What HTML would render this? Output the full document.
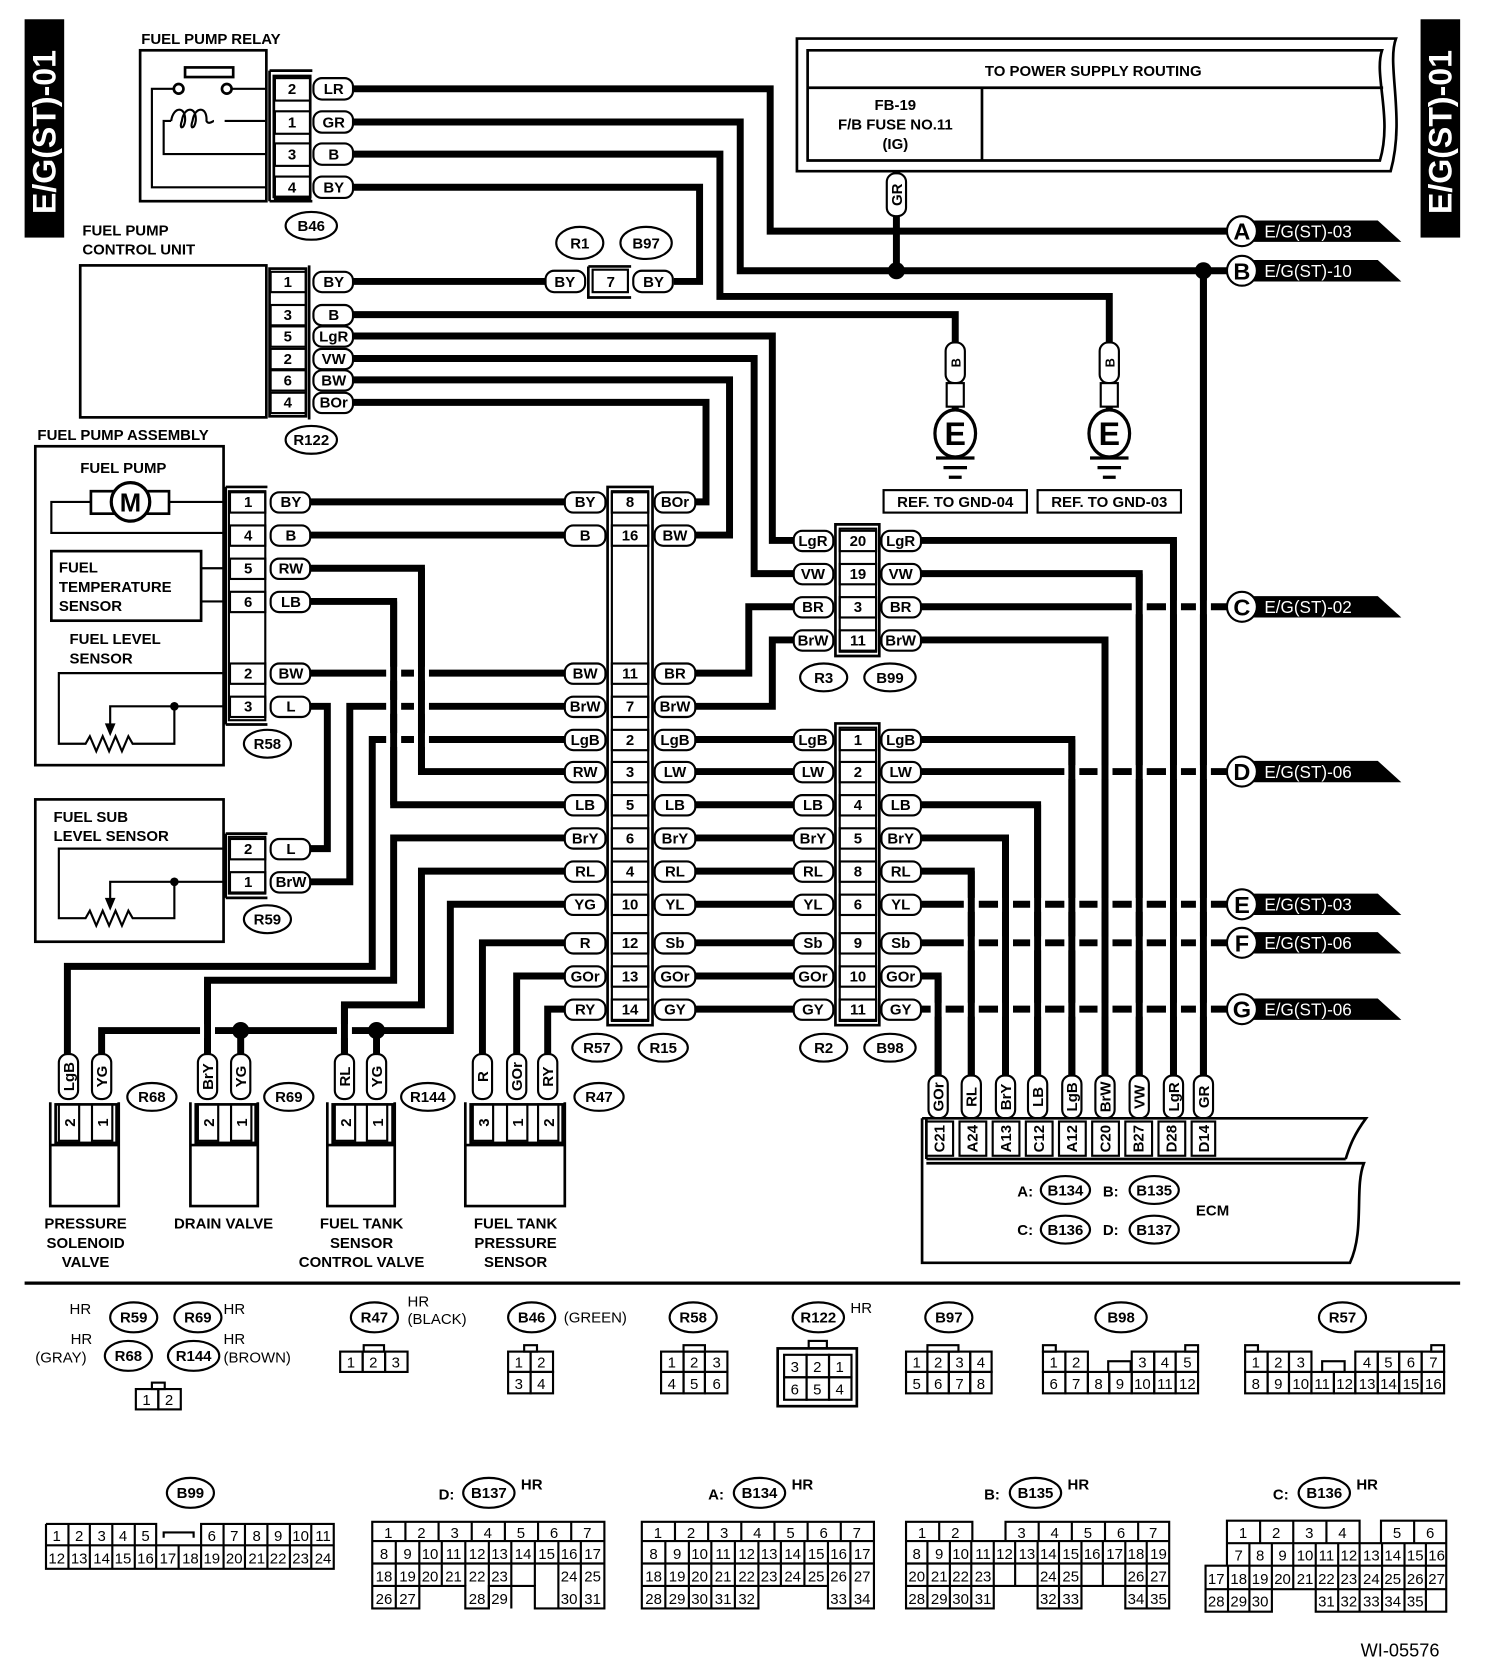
<!DOCTYPE html>
<html><head><meta charset="utf-8"><style>
html,body{margin:0;padding:0;background:#fff}
svg{display:block}
text{font-family:"Liberation Sans",Arial,sans-serif;font-weight:bold;font-size:14px;fill:#000}
.c{text-anchor:middle}
.n{font-weight:normal}
.w{stroke:#000;stroke-width:6.5;fill:none;stroke-linejoin:miter}
.t{stroke:#000;stroke-width:2;fill:none}
.tb{stroke:#000;stroke-width:2.5;fill:none}
.p{fill:#fff;stroke:#000;stroke-width:2}
.g{fill:#fff;stroke:none}
.wt{fill:#fff;font-size:16px;font-weight:normal}
</style></head><body>
<svg width="1504" height="1678" viewBox="0 0 1406 1568" preserveAspectRatio="none" xmlns="http://www.w3.org/2000/svg">
<rect x="0" y="0" width="1406" height="1568" fill="#fff"/>

<!-- side tags -->
<rect x="23" y="18" width="37" height="204" fill="#000"/>
<text transform="translate(52,200) rotate(-90)" style="fill:#fff;font-size:30px">E/G(ST)-01</text>
<rect x="1328" y="18" width="37" height="204" fill="#000"/>
<text transform="translate(1357,200) rotate(-90)" style="fill:#fff;font-size:30px">E/G(ST)-01</text>

<!-- ===== WIRES ===== -->
<g class="w">
<path d="M330,83 H720 V216 H1147"/>
<path d="M330,114 H692 V253 H1147"/>
<path d="M330,144 H673 V277 H1037 V320"/>
<path d="M330,175 H654 V263 H630"/>
<path d="M838,200 V253"/>
<path d="M330,263 H510"/>
<path d="M330,294 H893 V320"/>
<path d="M330,314 H722 V505 H742"/>
<path d="M330,335 H705 V536 H742"/>
<path d="M330,355 H682 V500 H650"/>
<path d="M330,376 H660 V469 H650"/>
<!-- R58 side -->
<path d="M290,469 H528"/>
<path d="M290,500 H528"/>
<path d="M290,531 H394 V721 H528"/>
<path d="M290,562 H368 V752 H528"/>
<path d="M290,629 H528"/>
<path d="M290,660 H306 V793 H290"/>
<path d="M290,824 H327 V660 H528"/>
<path d="M528,691 H348 V903 H63 V985"/>
<path d="M528,783 H368 V916 H194 V985"/>
<path d="M528,814 H394 V939 H322 V985"/>
<path d="M528,845 H421 V963 H95 V985"/>
<path d="M225,963 V985"/><path d="M352,963 V985"/>
<path d="M528,881 H451 V985"/>
<path d="M528,912 H483 V985"/>
<path d="M528,943 H512 V985"/>
<!-- R15 right -->
<path d="M650,629 H700 V567 H742"/>
<path d="M650,660 H722 V598 H742"/>
<path d="M650,691 H742"/><path d="M650,721 H742"/><path d="M650,752 H742"/><path d="M650,783 H742"/>
<path d="M650,814 H742"/><path d="M650,845 H742"/><path d="M650,881 H742"/><path d="M650,912 H742"/><path d="M650,943 H742"/>
<!-- B99 right -->
<path d="M860,505 H1097 V1005"/>
<path d="M860,536 H1065 V1005"/>
<path d="M860,567 H1148"/>
<path d="M860,598 H1033 V1005"/>
<!-- B98 right -->
<path d="M860,691 H1002 V1005"/>
<path d="M860,721 H1148"/>
<path d="M860,752 H970 V1005"/>
<path d="M860,783 H940 V1005"/>
<path d="M860,814 H908 V1005"/>
<path d="M860,845 H1148"/>
<path d="M860,881 H1148"/>
<path d="M860,912 H877 V1005"/>
<path d="M860,943 H1148"/>
<path d="M1125,253 V1005"/>
</g>

<!-- crossing gaps -->
<g class="g">
<rect x="361" y="623" width="14" height="13"/><rect x="387" y="623" width="14" height="13"/>
<rect x="361" y="654" width="14" height="13"/><rect x="387" y="654" width="14" height="13"/>
<rect x="361" y="685" width="14" height="13"/><rect x="387" y="685" width="14" height="13"/>
<rect x="187" y="957" width="14" height="13"/><rect x="315" y="957" width="14" height="13"/>
<rect x="1058" y="561" width="14" height="13"/><rect x="1090" y="561" width="14" height="13"/><rect x="1118" y="561" width="14" height="13"/>
<rect x="995" y="715" width="14" height="13"/><rect x="1026" y="715" width="14" height="13"/><rect x="1058" y="715" width="14" height="13"/><rect x="1090" y="715" width="14" height="13"/><rect x="1118" y="715" width="14" height="13"/>
<rect x="901" y="839" width="14" height="13"/><rect x="933" y="839" width="14" height="13"/><rect x="963" y="839" width="14" height="13"/><rect x="995" y="839" width="14" height="13"/><rect x="1026" y="839" width="14" height="13"/><rect x="1058" y="839" width="14" height="13"/><rect x="1090" y="839" width="14" height="13"/><rect x="1118" y="839" width="14" height="13"/>
<rect x="901" y="875" width="14" height="13"/><rect x="933" y="875" width="14" height="13"/><rect x="963" y="875" width="14" height="13"/><rect x="995" y="875" width="14" height="13"/><rect x="1026" y="875" width="14" height="13"/><rect x="1058" y="875" width="14" height="13"/><rect x="1090" y="875" width="14" height="13"/><rect x="1118" y="875" width="14" height="13"/>
<rect x="870" y="937" width="14" height="13"/><rect x="901" y="937" width="14" height="13"/><rect x="933" y="937" width="14" height="13"/><rect x="963" y="937" width="14" height="13"/><rect x="995" y="937" width="14" height="13"/><rect x="1026" y="937" width="14" height="13"/><rect x="1058" y="937" width="14" height="13"/><rect x="1090" y="937" width="14" height="13"/><rect x="1118" y="937" width="14" height="13"/>
</g>
<g class="w">
<path d="M368,562 V752"/><path d="M394,531 V721"/><path d="M322,939 V985"/><path d="M194,916 V985"/>
<path d="M877,912 V1005"/><path d="M908,814 V1005"/><path d="M940,783 V1005"/><path d="M970,752 V1005"/><path d="M1002,691 V1005"/><path d="M1033,598 V1005"/><path d="M1065,536 V1005"/><path d="M1097,505 V1005"/><path d="M1125,253 V1005"/>
</g>
<circle cx="838" cy="253" r="8"/><circle cx="1125" cy="253" r="8"/><circle cx="225" cy="963" r="8"/><circle cx="352" cy="963" r="8"/>

<!-- ===== FUEL PUMP RELAY ===== -->
<text x="132" y="41">FUEL PUMP RELAY</text>
<rect class="tb" x="131" y="47" width="118" height="141"/>
<rect class="tb" x="173" y="63" width="45" height="9"/>
<circle class="tb" cx="167" cy="83" r="4.5" fill="#fff"/><circle class="tb" cx="212" cy="83" r="4.5" fill="#fff"/>
<path class="t" d="M162,83 H142 V175 H249 M217,83 H249"/>
<path class="t" d="M249,113 H210 M160,113 H153 V144 H249"/>
<path class="t" d="M160,113 c2,-14 14,-14 13,0 c-1,8 -6,8 -3,0 c2,-14 14,-14 13,0 c-1,8 -6,8 -3,0 c2,-14 14,-14 13,0 c2,4 6,0 7,0"/>
<path class="tb" d="M252,66 H292 M252,188 H292 M252,66 V188"/>
<rect class="tb" x="256" y="71" width="34" height="113"/>
<g class="t"><rect x="257" y="73" width="33" height="21"/><rect x="257" y="104" width="33" height="21"/><rect x="257" y="134" width="33" height="21"/><rect x="257" y="165" width="33" height="21"/></g>
<text class="c" x="273" y="88">2</text><text class="c" x="273" y="119">1</text><text class="c" x="273" y="149">3</text><text class="c" x="273" y="180">4</text>
<g class="p"><rect x="293" y="73" width="37" height="20" rx="8"/><rect x="293" y="104" width="37" height="20" rx="8"/><rect x="293" y="134" width="37" height="20" rx="8"/><rect x="293" y="165" width="37" height="20" rx="8"/></g>
<text class="c" x="312" y="88">LR</text><text class="c" x="312" y="119">GR</text><text class="c" x="312" y="149">B</text><text class="c" x="312" y="180">BY</text>
<ellipse class="p" cx="291" cy="211" rx="24" ry="13"/><text class="c" x="291" y="216">B46</text>

<!-- ===== FPCU ===== -->
<text x="77" y="220">FUEL PUMP</text><text x="77" y="238">CONTROL UNIT</text>
<rect class="tb" x="75" y="248" width="174" height="142"/>
<path class="tb" d="M289,248 V392"/>
<rect class="tb" x="252" y="251" width="34" height="138"/>
<g class="t"><rect x="253" y="254" width="33" height="19"/><rect x="253" y="285" width="33" height="19"/><rect x="253" y="305" width="33" height="19"/><rect x="253" y="326" width="33" height="19"/><rect x="253" y="346" width="33" height="19"/><rect x="253" y="367" width="33" height="19"/></g>
<text class="c" x="269" y="268">1</text><text class="c" x="269" y="299">3</text><text class="c" x="269" y="319">5</text><text class="c" x="269" y="340">2</text><text class="c" x="269" y="360">6</text><text class="c" x="269" y="381">4</text>
<g class="p"><rect x="293" y="254" width="37" height="19" rx="8"/><rect x="293" y="285" width="37" height="19" rx="8"/><rect x="293" y="305" width="37" height="19" rx="8"/><rect x="293" y="326" width="37" height="19" rx="8"/><rect x="293" y="346" width="37" height="19" rx="8"/><rect x="293" y="367" width="37" height="19" rx="8"/></g>
<text class="c" x="312" y="268">BY</text><text class="c" x="312" y="299">B</text><text class="c" x="312" y="319">LgR</text><text class="c" x="312" y="340">VW</text><text class="c" x="312" y="360">BW</text><text class="c" x="312" y="381">BOr</text>
<ellipse class="p" cx="291" cy="411" rx="24" ry="13"/><text class="c" x="291" y="416">R122</text>

<!-- R1/B97 -->
<ellipse class="p" cx="542" cy="227" rx="22" ry="15"/><text class="c" x="542" y="232">R1</text>
<ellipse class="p" cx="604" cy="227" rx="24" ry="15"/><text class="c" x="604" y="232">B97</text>
<path class="tb" d="M550,249 H590 M550,249 V278 H590"/>
<rect class="t" x="554" y="252" width="33" height="21"/><text class="c" x="571" y="268">7</text>
<rect class="p" x="510" y="253" width="37" height="20" rx="8"/><text class="c" x="528" y="268">BY</text>
<rect class="p" x="592" y="253" width="37" height="20" rx="8"/><text class="c" x="611" y="268">BY</text>

<!-- ===== POWER BOX ===== -->
<path class="tb" d="M745,36 H1305 C1296,60 1314,110 1300,160 H745 Z"/>
<path class="tb" d="M755,47 H1292 C1284,70 1302,110 1290,150 H755 Z"/>
<path class="tb" d="M755,82 H1293 M918,82 V150"/>
<text class="c" x="1022" y="71">TO POWER SUPPLY ROUTING</text>
<text class="c" x="837" y="103">FB-19</text><text class="c" x="837" y="121">F/B FUSE NO.11</text><text class="c" x="837" y="139">(IG)</text>
<path class="t" d="M838,160 V165"/>
<rect class="p" x="829" y="162" width="18" height="40" rx="8"/>
<text class="c" transform="translate(843,182) rotate(-90)">GR</text>

<!-- grounds -->
<g>
<path class="w" d="M893,358 V390"/><path class="w" d="M1037,358 V390"/>
<rect class="p" x="884" y="320" width="18" height="38" rx="8"/><text class="c" transform="translate(898,339) rotate(-90)" style="font-size:12px">B</text>
<rect class="p" x="1028" y="320" width="18" height="38" rx="8"/><text class="c" transform="translate(1042,339) rotate(-90)" style="font-size:12px">B</text>
<rect class="p" x="885" y="358" width="16" height="22"/><rect class="p" x="1029" y="358" width="16" height="22"/>
<ellipse class="p" cx="893" cy="405" rx="19" ry="22" style="stroke-width:3"/><text class="c" x="893" y="416" style="font-size:30px">E</text>
<ellipse class="p" cx="1037" cy="405" rx="19" ry="22" style="stroke-width:3"/><text class="c" x="1037" y="416" style="font-size:30px">E</text>
<path class="tb" d="M875,428 H911 M882,437 H904 M887,446 H899 M1019,428 H1055 M1026,437 H1048 M1031,446 H1043" style="stroke-width:3"/>
<rect class="t" x="826" y="458" width="134" height="21"/><text class="c" x="893" y="474">REF. TO GND-04</text>
<rect class="t" x="970" y="458" width="134" height="21"/><text class="c" x="1037" y="474">REF. TO GND-03</text>
</g>

<!-- off-page connectors -->
<g>
<polygon points="1172,206 1288,206 1310,226 1172,226"/><circle class="p" cx="1161" cy="216" r="14"/><text class="c" x="1161" y="224" style="font-size:22px">A</text><text class="wt" x="1182" y="222">E/G(ST)-03</text>
<polygon points="1172,243 1288,243 1310,263 1172,263"/><circle class="p" cx="1161" cy="253" r="14"/><text class="c" x="1161" y="261" style="font-size:22px">B</text><text class="wt" x="1182" y="259">E/G(ST)-10</text>
<polygon points="1172,557 1288,557 1310,577 1172,577"/><circle class="p" cx="1161" cy="567" r="14"/><text class="c" x="1161" y="575" style="font-size:22px">C</text><text class="wt" x="1182" y="573">E/G(ST)-02</text>
<polygon points="1172,711 1288,711 1310,731 1172,731"/><circle class="p" cx="1161" cy="721" r="14"/><text class="c" x="1161" y="729" style="font-size:22px">D</text><text class="wt" x="1182" y="727">E/G(ST)-06</text>
<polygon points="1172,835 1288,835 1310,855 1172,855"/><circle class="p" cx="1161" cy="845" r="14"/><text class="c" x="1161" y="853" style="font-size:22px">E</text><text class="wt" x="1182" y="851">E/G(ST)-03</text>
<polygon points="1172,871 1288,871 1310,891 1172,891"/><circle class="p" cx="1161" cy="881" r="14"/><text class="c" x="1161" y="889" style="font-size:22px">F</text><text class="wt" x="1182" y="887">E/G(ST)-06</text>
<polygon points="1172,933 1288,933 1310,953 1172,953"/><circle class="p" cx="1161" cy="943" r="14"/><text class="c" x="1161" y="951" style="font-size:22px">G</text><text class="wt" x="1182" y="949">E/G(ST)-06</text>
</g>

<!-- ===== FUEL PUMP ASSEMBLY ===== -->
<text x="35" y="411">FUEL PUMP ASSEMBLY</text>
<rect class="tb" x="33" y="417" width="176" height="298"/>
<text x="75" y="442">FUEL PUMP</text>
<path class="t" d="M209,469 H158 M85,469 H48 V498 H209"/>
<rect class="tb" x="85" y="459" width="73" height="21"/>
<circle class="p" cx="122" cy="469" r="18" style="stroke-width:3"/><text class="c" x="122" y="478" style="font-size:24px">M</text>
<rect class="tb" x="48" y="515" width="140" height="65"/>
<text x="55" y="535">FUEL</text><text x="55" y="553">TEMPERATURE</text><text x="55" y="571">SENSOR</text>
<path class="t" d="M188,531 H209 M188,562 H209"/>
<text x="65" y="602">FUEL LEVEL</text><text x="65" y="620">SENSOR</text>
<path class="t" d="M209,629 H55 V695 H80 l4,-7 l6,14 l6,-14 l6,14 l6,-14 l6,14 l6,-14 l4,7 H163 V660 H209 M163,660 H103 V680"/>
<path d="M98,676 L103,688 L108,676 Z"/>
<circle cx="163" cy="660" r="4"/>
<!-- R58 connector -->
<path class="tb" d="M211,455 V677 M211,455 H250 M211,677 H250"/>
<rect class="t" x="214" y="459" width="34" height="214"/>
<g class="t"><rect x="215" y="460" width="33" height="19"/><rect x="215" y="491" width="33" height="19"/><rect x="215" y="522" width="33" height="19"/><rect x="215" y="553" width="33" height="19"/><rect x="215" y="620" width="33" height="19"/><rect x="215" y="651" width="33" height="19"/></g>
<text class="c" x="232" y="474">1</text><text class="c" x="232" y="505">4</text><text class="c" x="232" y="536">5</text><text class="c" x="232" y="567">6</text><text class="c" x="232" y="634">2</text><text class="c" x="232" y="665">3</text>
<g class="p"><rect x="253" y="460" width="37" height="19" rx="8"/><rect x="253" y="491" width="37" height="19" rx="8"/><rect x="253" y="522" width="37" height="19" rx="8"/><rect x="253" y="553" width="37" height="19" rx="8"/><rect x="253" y="620" width="37" height="19" rx="8"/><rect x="253" y="651" width="37" height="19" rx="8"/></g>
<text class="c" x="272" y="474">BY</text><text class="c" x="272" y="505">B</text><text class="c" x="272" y="536">RW</text><text class="c" x="272" y="567">LB</text><text class="c" x="272" y="634">BW</text><text class="c" x="272" y="665">L</text>
<ellipse class="p" cx="250" cy="695" rx="22" ry="13"/><text class="c" x="250" y="700">R58</text>

<!-- FUEL SUB LEVEL SENSOR -->
<rect class="tb" x="33" y="747" width="176" height="133"/>
<text x="50" y="768">FUEL SUB</text><text x="50" y="786">LEVEL SENSOR</text>
<path class="t" d="M209,793 H55 V858 H80 l4,-7 l6,14 l6,-14 l6,14 l6,-14 l6,14 l6,-14 l4,7 H163 V824 H209 M163,824 H103 V843"/>
<path d="M98,839 L103,851 L108,839 Z"/>
<circle cx="163" cy="824" r="4"/>
<path class="tb" d="M211,779 V839 M211,779 H250 M211,839 H250"/>
<rect class="t" x="214" y="782" width="34" height="53"/>
<g class="t"><rect x="215" y="784" width="33" height="19"/><rect x="215" y="815" width="33" height="19"/></g>
<text class="c" x="232" y="798">2</text><text class="c" x="232" y="829">1</text>
<g class="p"><rect x="253" y="784" width="37" height="19" rx="8"/><rect x="253" y="815" width="37" height="19" rx="8"/></g>
<text class="c" x="272" y="798">L</text><text class="c" x="272" y="829">BrW</text>
<ellipse class="p" cx="250" cy="859" rx="22" ry="13"/><text class="c" x="250" y="864">R59</text>

<!-- ===== R57 / R15 ===== -->
<path class="tb" d="M568,455 H610 V958 H568 Z"/>
<rect class="t" x="572" y="459" width="34" height="495"/>
<g class="t">
<rect x="572" y="460" width="34" height="19"/><rect x="572" y="491" width="34" height="19"/><rect x="572" y="620" width="34" height="19"/><rect x="572" y="651" width="34" height="19"/><rect x="572" y="682" width="34" height="19"/><rect x="572" y="712" width="34" height="19"/><rect x="572" y="743" width="34" height="19"/><rect x="572" y="774" width="34" height="19"/><rect x="572" y="805" width="34" height="19"/><rect x="572" y="836" width="34" height="19"/><rect x="572" y="872" width="34" height="19"/><rect x="572" y="903" width="34" height="19"/><rect x="572" y="934" width="34" height="19"/>
</g>
<g class="c">
<text x="589" y="474" class="c">8</text><text x="589" y="505" class="c">16</text><text x="589" y="634" class="c">11</text><text x="589" y="665" class="c">7</text><text x="589" y="696" class="c">2</text><text x="589" y="726" class="c">3</text><text x="589" y="757" class="c">5</text><text x="589" y="788" class="c">6</text><text x="589" y="819" class="c">4</text><text x="589" y="850" class="c">10</text><text x="589" y="886" class="c">12</text><text x="589" y="917" class="c">13</text><text x="589" y="948" class="c">14</text>
</g>
<g class="p">
<rect x="528" y="460" width="38" height="19" rx="8"/><rect x="528" y="491" width="38" height="19" rx="8"/><rect x="528" y="620" width="38" height="19" rx="8"/><rect x="528" y="651" width="38" height="19" rx="8"/><rect x="528" y="682" width="38" height="19" rx="8"/><rect x="528" y="712" width="38" height="19" rx="8"/><rect x="528" y="743" width="38" height="19" rx="8"/><rect x="528" y="774" width="38" height="19" rx="8"/><rect x="528" y="805" width="38" height="19" rx="8"/><rect x="528" y="836" width="38" height="19" rx="8"/><rect x="528" y="872" width="38" height="19" rx="8"/><rect x="528" y="903" width="38" height="19" rx="8"/><rect x="528" y="934" width="38" height="19" rx="8"/>
<rect x="612" y="460" width="38" height="19" rx="8"/><rect x="612" y="491" width="38" height="19" rx="8"/><rect x="612" y="620" width="38" height="19" rx="8"/><rect x="612" y="651" width="38" height="19" rx="8"/><rect x="612" y="682" width="38" height="19" rx="8"/><rect x="612" y="712" width="38" height="19" rx="8"/><rect x="612" y="743" width="38" height="19" rx="8"/><rect x="612" y="774" width="38" height="19" rx="8"/><rect x="612" y="805" width="38" height="19" rx="8"/><rect x="612" y="836" width="38" height="19" rx="8"/><rect x="612" y="872" width="38" height="19" rx="8"/><rect x="612" y="903" width="38" height="19" rx="8"/><rect x="612" y="934" width="38" height="19" rx="8"/>
</g>
<text class="c" x="547" y="474">BY</text><text class="c" x="547" y="505">B</text><text class="c" x="547" y="634">BW</text><text class="c" x="547" y="665">BrW</text><text class="c" x="547" y="696">LgB</text><text class="c" x="547" y="726">RW</text><text class="c" x="547" y="757">LB</text><text class="c" x="547" y="788">BrY</text><text class="c" x="547" y="819">RL</text><text class="c" x="547" y="850">YG</text><text class="c" x="547" y="886">R</text><text class="c" x="547" y="917">GOr</text><text class="c" x="547" y="948">RY</text>
<text class="c" x="631" y="474">BOr</text><text class="c" x="631" y="505">BW</text><text class="c" x="631" y="634">BR</text><text class="c" x="631" y="665">BrW</text><text class="c" x="631" y="696">LgB</text><text class="c" x="631" y="726">LW</text><text class="c" x="631" y="757">LB</text><text class="c" x="631" y="788">BrY</text><text class="c" x="631" y="819">RL</text><text class="c" x="631" y="850">YL</text><text class="c" x="631" y="886">Sb</text><text class="c" x="631" y="917">GOr</text><text class="c" x="631" y="948">GY</text>
<ellipse class="p" cx="558" cy="979" rx="23" ry="13"/><text class="c" x="558" y="984">R57</text>
<ellipse class="p" cx="620" cy="979" rx="23" ry="13"/><text class="c" x="620" y="984">R15</text>

<!-- ===== R3 / B99 ===== -->
<path class="tb" d="M781,490 H822 V613 H781 Z"/>
<rect class="t" x="785" y="494" width="34" height="115"/>
<g class="t"><rect x="785" y="496" width="34" height="19"/><rect x="785" y="527" width="34" height="19"/><rect x="785" y="558" width="34" height="19"/><rect x="785" y="589" width="34" height="19"/></g>
<text class="c" x="802" y="510">20</text><text class="c" x="802" y="541">19</text><text class="c" x="802" y="572">3</text><text class="c" x="802" y="603">11</text>
<g class="p"><rect x="742" y="496" width="37" height="19" rx="8"/><rect x="742" y="527" width="37" height="19" rx="8"/><rect x="742" y="558" width="37" height="19" rx="8"/><rect x="742" y="589" width="37" height="19" rx="8"/>
<rect x="824" y="496" width="37" height="19" rx="8"/><rect x="824" y="527" width="37" height="19" rx="8"/><rect x="824" y="558" width="37" height="19" rx="8"/><rect x="824" y="589" width="37" height="19" rx="8"/></g>
<text class="c" x="760" y="510">LgR</text><text class="c" x="760" y="541">VW</text><text class="c" x="760" y="572">BR</text><text class="c" x="760" y="603">BrW</text>
<text class="c" x="842" y="510">LgR</text><text class="c" x="842" y="541">VW</text><text class="c" x="842" y="572">BR</text><text class="c" x="842" y="603">BrW</text>
<ellipse class="p" cx="770" cy="633" rx="22" ry="13"/><text class="c" x="770" y="638">R3</text>
<ellipse class="p" cx="832" cy="633" rx="24" ry="13"/><text class="c" x="832" y="638">B99</text>

<!-- ===== R2 / B98 ===== -->
<path class="tb" d="M781,676 H822 V958 H781 Z"/>
<rect class="t" x="785" y="680" width="34" height="274"/>
<g class="t"><rect x="785" y="682" width="34" height="19"/><rect x="785" y="712" width="34" height="19"/><rect x="785" y="743" width="34" height="19"/><rect x="785" y="774" width="34" height="19"/><rect x="785" y="805" width="34" height="19"/><rect x="785" y="836" width="34" height="19"/><rect x="785" y="872" width="34" height="19"/><rect x="785" y="903" width="34" height="19"/><rect x="785" y="934" width="34" height="19"/></g>
<text class="c" x="802" y="696">1</text><text class="c" x="802" y="726">2</text><text class="c" x="802" y="757">4</text><text class="c" x="802" y="788">5</text><text class="c" x="802" y="819">8</text><text class="c" x="802" y="850">6</text><text class="c" x="802" y="886">9</text><text class="c" x="802" y="917">10</text><text class="c" x="802" y="948">11</text>
<g class="p">
<rect x="742" y="682" width="37" height="19" rx="8"/><rect x="742" y="712" width="37" height="19" rx="8"/><rect x="742" y="743" width="37" height="19" rx="8"/><rect x="742" y="774" width="37" height="19" rx="8"/><rect x="742" y="805" width="37" height="19" rx="8"/><rect x="742" y="836" width="37" height="19" rx="8"/><rect x="742" y="872" width="37" height="19" rx="8"/><rect x="742" y="903" width="37" height="19" rx="8"/><rect x="742" y="934" width="37" height="19" rx="8"/>
<rect x="824" y="682" width="37" height="19" rx="8"/><rect x="824" y="712" width="37" height="19" rx="8"/><rect x="824" y="743" width="37" height="19" rx="8"/><rect x="824" y="774" width="37" height="19" rx="8"/><rect x="824" y="805" width="37" height="19" rx="8"/><rect x="824" y="836" width="37" height="19" rx="8"/><rect x="824" y="872" width="37" height="19" rx="8"/><rect x="824" y="903" width="37" height="19" rx="8"/><rect x="824" y="934" width="37" height="19" rx="8"/>
</g>
<text class="c" x="760" y="696">LgB</text><text class="c" x="760" y="726">LW</text><text class="c" x="760" y="757">LB</text><text class="c" x="760" y="788">BrY</text><text class="c" x="760" y="819">RL</text><text class="c" x="760" y="850">YL</text><text class="c" x="760" y="886">Sb</text><text class="c" x="760" y="917">GOr</text><text class="c" x="760" y="948">GY</text>
<text class="c" x="842" y="696">LgB</text><text class="c" x="842" y="726">LW</text><text class="c" x="842" y="757">LB</text><text class="c" x="842" y="788">BrY</text><text class="c" x="842" y="819">RL</text><text class="c" x="842" y="850">YL</text><text class="c" x="842" y="886">Sb</text><text class="c" x="842" y="917">GOr</text><text class="c" x="842" y="948">GY</text>
<ellipse class="p" cx="770" cy="979" rx="22" ry="13"/><text class="c" x="770" y="984">R2</text>
<ellipse class="p" cx="832" cy="979" rx="24" ry="13"/><text class="c" x="832" y="984">B98</text>

<!-- ===== Bottom devices ===== -->
<g class="p">
<rect x="55" y="985" width="18" height="42" rx="8"/><rect x="86" y="985" width="18" height="42" rx="8"/>
<rect x="185" y="985" width="18" height="42" rx="8"/><rect x="216" y="985" width="18" height="42" rx="8"/>
<rect x="313" y="985" width="18" height="42" rx="8"/><rect x="343" y="985" width="18" height="42" rx="8"/>
<rect x="442" y="985" width="18" height="42" rx="8"/><rect x="474" y="985" width="18" height="42" rx="8"/><rect x="503" y="985" width="18" height="42" rx="8"/>
</g>
<text class="c" transform="translate(69,1006) rotate(-90)">LgB</text><text class="c" transform="translate(100,1006) rotate(-90)">YG</text>
<text class="c" transform="translate(199,1006) rotate(-90)">BrY</text><text class="c" transform="translate(230,1006) rotate(-90)">YG</text>
<text class="c" transform="translate(327,1006) rotate(-90)">RL</text><text class="c" transform="translate(357,1006) rotate(-90)">YG</text>
<text class="c" transform="translate(456,1006) rotate(-90)">R</text><text class="c" transform="translate(488,1006) rotate(-90)">GOr</text><text class="c" transform="translate(517,1006) rotate(-90)">RY</text>
<g class="tb">
<path d="M47,1030 V1127 H111 V1030 M47,1070 H111"/><rect x="52" y="1032" width="57" height="36"/>
<path d="M178,1030 V1127 H241 V1030 M178,1070 H241"/><rect x="183" y="1032" width="56" height="36"/>
<path d="M306,1030 V1127 H369 V1030 M306,1070 H369"/><rect x="311" y="1032" width="56" height="36"/>
<path d="M435,1030 V1127 H528 V1030 M435,1070 H528"/><rect x="440" y="1032" width="86" height="36"/>
</g>
<g class="t">
<rect x="55" y="1032" width="19" height="34"/><rect x="86" y="1032" width="19" height="34"/>
<rect x="185" y="1032" width="19" height="34"/><rect x="216" y="1032" width="19" height="34"/>
<rect x="313" y="1032" width="19" height="34"/><rect x="343" y="1032" width="19" height="34"/>
<rect x="442" y="1032" width="19" height="34"/><rect x="474" y="1032" width="19" height="34"/><rect x="503" y="1032" width="19" height="34"/>
</g>
<text class="c" transform="translate(70,1049) rotate(-90)">2</text><text class="c" transform="translate(101,1049) rotate(-90)">1</text>
<text class="c" transform="translate(200,1049) rotate(-90)">2</text><text class="c" transform="translate(231,1049) rotate(-90)">1</text>
<text class="c" transform="translate(328,1049) rotate(-90)">2</text><text class="c" transform="translate(358,1049) rotate(-90)">1</text>
<text class="c" transform="translate(457,1049) rotate(-90)">3</text><text class="c" transform="translate(489,1049) rotate(-90)">1</text><text class="c" transform="translate(518,1049) rotate(-90)">2</text>
<ellipse class="p" cx="142" cy="1025" rx="23" ry="13"/><text class="c" x="142" y="1030">R68</text>
<ellipse class="p" cx="270" cy="1025" rx="23" ry="13"/><text class="c" x="270" y="1030">R69</text>
<ellipse class="p" cx="400" cy="1025" rx="25" ry="13"/><text class="c" x="400" y="1030">R144</text>
<ellipse class="p" cx="560" cy="1025" rx="23" ry="13"/><text class="c" x="560" y="1030">R47</text>
<text class="c" x="80" y="1148">PRESSURE</text><text class="c" x="80" y="1166">SOLENOID</text><text class="c" x="80" y="1184">VALVE</text>
<text class="c" x="209" y="1148">DRAIN VALVE</text>
<text class="c" x="338" y="1148">FUEL TANK</text><text class="c" x="338" y="1166">SENSOR</text><text class="c" x="338" y="1184">CONTROL VALVE</text>
<text class="c" x="482" y="1148">FUEL TANK</text><text class="c" x="482" y="1166">PRESSURE</text><text class="c" x="482" y="1184">SENSOR</text>

<!-- ===== ECM ===== -->
<g class="p">
<rect x="868" y="1005" width="18" height="40" rx="8"/><rect x="899" y="1005" width="18" height="40" rx="8"/><rect x="931" y="1005" width="18" height="40" rx="8"/><rect x="961" y="1005" width="18" height="40" rx="8"/><rect x="993" y="1005" width="18" height="40" rx="8"/><rect x="1024" y="1005" width="18" height="40" rx="8"/><rect x="1056" y="1005" width="18" height="40" rx="8"/><rect x="1088" y="1005" width="18" height="40" rx="8"/><rect x="1116" y="1005" width="18" height="40" rx="8"/>
</g>
<text class="c" transform="translate(882,1025) rotate(-90)">GOr</text><text class="c" transform="translate(913,1025) rotate(-90)">RL</text><text class="c" transform="translate(945,1025) rotate(-90)">BrY</text><text class="c" transform="translate(975,1025) rotate(-90)">LB</text><text class="c" transform="translate(1007,1025) rotate(-90)">LgB</text><text class="c" transform="translate(1038,1025) rotate(-90)">BrW</text><text class="c" transform="translate(1070,1025) rotate(-90)">VW</text><text class="c" transform="translate(1102,1025) rotate(-90)">LgR</text><text class="c" transform="translate(1130,1025) rotate(-90)">GR</text>
<path class="tb" d="M862,1045 H1277 C1266,1060 1262,1070 1258,1083 M862,1045 V1180 H1262 C1276,1150 1266,1110 1275,1087 H866 M866,1083 H1258 M866,1045 V1083"/>
<g class="t">
<rect x="866" y="1048" width="25" height="32"/><rect x="897" y="1048" width="25" height="32"/><rect x="928" y="1048" width="25" height="32"/><rect x="959" y="1048" width="25" height="32"/><rect x="990" y="1048" width="25" height="32"/><rect x="1021" y="1048" width="25" height="32"/><rect x="1052" y="1048" width="25" height="32"/><rect x="1083" y="1048" width="25" height="32"/><rect x="1114" y="1048" width="22" height="32"/>
</g>
<text class="c" transform="translate(883,1064) rotate(-90)">C21</text><text class="c" transform="translate(914,1064) rotate(-90)">A24</text><text class="c" transform="translate(945,1064) rotate(-90)">A13</text><text class="c" transform="translate(976,1064) rotate(-90)">C12</text><text class="c" transform="translate(1007,1064) rotate(-90)">A12</text><text class="c" transform="translate(1038,1064) rotate(-90)">C20</text><text class="c" transform="translate(1069,1064) rotate(-90)">B27</text><text class="c" transform="translate(1100,1064) rotate(-90)">D28</text><text class="c" transform="translate(1130,1064) rotate(-90)">D14</text>
<text x="951" y="1118">A:</text><ellipse class="p" cx="996" cy="1112" rx="23" ry="13"/><text class="c" x="996" y="1117">B134</text>
<text x="1031" y="1118">B:</text><ellipse class="p" cx="1079" cy="1112" rx="23" ry="13"/><text class="c" x="1079" y="1117">B135</text>
<text x="951" y="1154">C:</text><ellipse class="p" cx="996" cy="1149" rx="23" ry="13"/><text class="c" x="996" y="1154">B136</text>
<text x="1031" y="1154">D:</text><ellipse class="p" cx="1079" cy="1149" rx="23" ry="13"/><text class="c" x="1079" y="1154">B137</text>
<text x="1118" y="1136">ECM</text>

<!-- rule -->
<path d="M23,1199 H1365" stroke="#000" stroke-width="3"/>

<!-- ===== Legend row 1 ===== -->
<g class="n">
<text class="n" x="65" y="1228">HR</text>
<ellipse class="p" cx="125" cy="1231" rx="22" ry="14"/><text class="c" x="125" y="1236">R59</text>
<ellipse class="p" cx="185" cy="1231" rx="22" ry="14"/><text class="c" x="185" y="1236">R69</text>
<text class="n" x="209" y="1228">HR</text>
<text class="n" x="66" y="1256">HR</text><text class="n" x="33" y="1273">(GRAY)</text>
<ellipse class="p" cx="120" cy="1267" rx="22" ry="14"/><text class="c" x="120" y="1272">R68</text>
<ellipse class="p" cx="181" cy="1267" rx="24" ry="14"/><text class="c" x="181" y="1272">R144</text>
<text class="n" x="209" y="1256">HR</text><text class="n" x="209" y="1273">(BROWN)</text>
</g>
<g class="t"><rect x="142" y="1292" width="12" height="6"/><rect x="127" y="1298" width="21" height="19"/><rect x="148" y="1298" width="21" height="19"/></g>
<text class="c n" x="137" y="1313">1</text><text class="c n" x="158" y="1313">2</text>

<ellipse class="p" cx="350" cy="1231" rx="22" ry="14"/><text class="c" x="350" y="1236">R47</text>
<text class="n" x="381" y="1221">HR</text><text class="n" x="381" y="1237">(BLACK)</text>
<g class="t"><rect x="340" y="1257" width="19" height="6"/><rect x="318" y="1263" width="21" height="19"/><rect x="339" y="1263" width="21" height="19"/><rect x="360" y="1263" width="21" height="19"/></g>
<text class="c n" x="328" y="1278">1</text><text class="c n" x="349" y="1278">2</text><text class="c n" x="370" y="1278">3</text>

<ellipse class="p" cx="497" cy="1231" rx="22" ry="14"/><text class="c" x="497" y="1236">B46</text>
<text class="n" x="527" y="1236">(GREEN)</text>
<g class="t"><rect x="490" y="1257" width="12" height="6"/><rect x="475" y="1263" width="21" height="19"/><rect x="496" y="1263" width="21" height="19"/><rect x="475" y="1282" width="21" height="20"/><rect x="496" y="1282" width="21" height="20"/></g>
<text class="c n" x="485" y="1278">1</text><text class="c n" x="506" y="1278">2</text><text class="c n" x="485" y="1298">3</text><text class="c n" x="506" y="1298">4</text>

<ellipse class="p" cx="648" cy="1231" rx="22" ry="14"/><text class="c" x="648" y="1236">R58</text>
<g class="t"><rect x="639" y="1257" width="20" height="6"/><rect x="618" y="1263" width="21" height="19"/><rect x="639" y="1263" width="20" height="19"/><rect x="659" y="1263" width="21" height="19"/><rect x="618" y="1282" width="21" height="20"/><rect x="639" y="1282" width="20" height="20"/><rect x="659" y="1282" width="21" height="20"/></g>
<text class="c n" x="628" y="1278">1</text><text class="c n" x="649" y="1278">2</text><text class="c n" x="670" y="1278">3</text><text class="c n" x="628" y="1298">4</text><text class="c n" x="649" y="1298">5</text><text class="c n" x="670" y="1298">6</text>

<ellipse class="p" cx="765" cy="1231" rx="24" ry="14"/><text class="c" x="765" y="1236">R122</text>
<text class="n" x="795" y="1227">HR</text>
<g class="t"><rect x="756" y="1253" width="17" height="7"/><rect x="727" y="1260" width="74" height="54" style="stroke-width:2.5"/><rect x="733" y="1266" width="21" height="21"/><rect x="754" y="1266" width="21" height="21"/><rect x="775" y="1266" width="21" height="21"/><rect x="733" y="1287" width="21" height="21"/><rect x="754" y="1287" width="21" height="21"/><rect x="775" y="1287" width="21" height="21"/></g>
<text class="c n" x="743" y="1282">3</text><text class="c n" x="764" y="1282">2</text><text class="c n" x="785" y="1282">1</text><text class="c n" x="743" y="1303">6</text><text class="c n" x="764" y="1303">5</text><text class="c n" x="785" y="1303">4</text>

<ellipse class="p" cx="887" cy="1231" rx="22" ry="14"/><text class="c" x="887" y="1236">B97</text>
<g class="t"><rect x="867" y="1257" width="29" height="6"/>
<rect x="847" y="1263" width="20" height="19"/><rect x="867" y="1263" width="20" height="19"/><rect x="887" y="1263" width="20" height="19"/><rect x="907" y="1263" width="20" height="19"/>
<rect x="847" y="1282" width="20" height="20"/><rect x="867" y="1282" width="20" height="20"/><rect x="887" y="1282" width="20" height="20"/><rect x="907" y="1282" width="20" height="20"/></g>
<text class="c n" x="857" y="1278">1</text><text class="c n" x="877" y="1278">2</text><text class="c n" x="897" y="1278">3</text><text class="c n" x="917" y="1278">4</text><text class="c n" x="857" y="1298">5</text><text class="c n" x="877" y="1298">6</text><text class="c n" x="897" y="1298">7</text><text class="c n" x="917" y="1298">8</text>

<ellipse class="p" cx="1048" cy="1231" rx="24" ry="14"/><text class="c" x="1048" y="1236">B98</text>
<g class="t"><rect x="975" y="1257" width="12" height="6"/><rect x="1108" y="1257" width="12" height="6"/><rect x="1036" y="1272" width="21" height="10"/>
<rect x="975" y="1263" width="21" height="19"/><rect x="996" y="1263" width="21" height="19"/><rect x="1058" y="1263" width="21" height="19"/><rect x="1079" y="1263" width="20" height="19"/><rect x="1099" y="1263" width="21" height="19"/>
<rect x="975" y="1282" width="21" height="20"/><rect x="996" y="1282" width="21" height="20"/><rect x="1017" y="1282" width="20" height="20"/><rect x="1037" y="1282" width="21" height="20"/><rect x="1058" y="1282" width="21" height="20"/><rect x="1079" y="1282" width="20" height="20"/><rect x="1099" y="1282" width="21" height="20"/></g>
<text class="c n" x="985" y="1278">1</text><text class="c n" x="1006" y="1278">2</text><text class="c n" x="1068" y="1278">3</text><text class="c n" x="1089" y="1278">4</text><text class="c n" x="1110" y="1278">5</text>
<text class="c n" x="985" y="1298">6</text><text class="c n" x="1006" y="1298">7</text><text class="c n" x="1027" y="1298">8</text><text class="c n" x="1047" y="1298">9</text><text class="c n" x="1068" y="1298">10</text><text class="c n" x="1089" y="1298">11</text><text class="c n" x="1110" y="1298">12</text>

<ellipse class="p" cx="1255" cy="1231" rx="22" ry="14"/><text class="c" x="1255" y="1236">R57</text>
<g class="t"><rect x="1164" y="1257" width="12" height="6"/><rect x="1338" y="1257" width="12" height="6"/><rect x="1236" y="1272" width="21" height="10"/>
<rect x="1164" y="1263" width="21" height="19"/><rect x="1185" y="1263" width="20" height="19"/><rect x="1205" y="1263" width="21" height="19"/>
<rect x="1267" y="1263" width="21" height="19"/><rect x="1288" y="1263" width="20" height="19"/><rect x="1308" y="1263" width="21" height="19"/><rect x="1329" y="1263" width="21" height="19"/>
<rect x="1164" y="1282" width="21" height="20"/><rect x="1185" y="1282" width="20" height="20"/><rect x="1205" y="1282" width="21" height="20"/><rect x="1226" y="1282" width="21" height="20"/><rect x="1247" y="1282" width="20" height="20"/><rect x="1267" y="1282" width="21" height="20"/><rect x="1288" y="1282" width="20" height="20"/><rect x="1308" y="1282" width="21" height="20"/><rect x="1329" y="1282" width="21" height="20"/></g>
<text class="c n" x="1174" y="1278">1</text><text class="c n" x="1195" y="1278">2</text><text class="c n" x="1216" y="1278">3</text><text class="c n" x="1278" y="1278">4</text><text class="c n" x="1298" y="1278">5</text><text class="c n" x="1319" y="1278">6</text><text class="c n" x="1340" y="1278">7</text>
<text class="c n" x="1174" y="1298">8</text><text class="c n" x="1195" y="1298">9</text><text class="c n" x="1216" y="1298">10</text><text class="c n" x="1236" y="1298">11</text><text class="c n" x="1257" y="1298">12</text><text class="c n" x="1278" y="1298">13</text><text class="c n" x="1298" y="1298">14</text><text class="c n" x="1319" y="1298">15</text><text class="c n" x="1340" y="1298">16</text>

<!-- ===== Legend row 2 ===== -->
<!-- B99 -->
<ellipse class="p" cx="178" cy="1395" rx="22" ry="14"/><text class="c" x="178" y="1400">B99</text>
<g class="t">
<path d="M43,1424 H146 V1444 M43,1424 V1466 H312 V1424 H188 V1444 M43,1444 H312 M153,1437 V1432 H181 V1437"/>
<path d="M64,1424 V1466 M84,1424 V1466 M105,1424 V1466 M126,1424 V1466 M146,1444 V1466 M167,1444 V1466 M188,1444 V1466 M209,1424 V1466 M229,1424 V1466 M250,1424 V1466 M271,1424 V1466 M291,1424 V1466"/>
</g>
<g class="n">
<text class="c n" x="53" y="1440">1</text><text class="c n" x="74" y="1440">2</text><text class="c n" x="95" y="1440">3</text><text class="c n" x="115" y="1440">4</text><text class="c n" x="136" y="1440">5</text><text class="c n" x="198" y="1440">6</text><text class="c n" x="219" y="1440">7</text><text class="c n" x="240" y="1440">8</text><text class="c n" x="260" y="1440">9</text><text class="c n" x="281" y="1440">10</text><text class="c n" x="302" y="1440">11</text>
<text class="c n" x="53" y="1461">12</text><text class="c n" x="74" y="1461">13</text><text class="c n" x="95" y="1461">14</text><text class="c n" x="115" y="1461">15</text><text class="c n" x="136" y="1461">16</text><text class="c n" x="157" y="1461">17</text><text class="c n" x="178" y="1461">18</text><text class="c n" x="198" y="1461">19</text><text class="c n" x="219" y="1461">20</text><text class="c n" x="240" y="1461">21</text><text class="c n" x="260" y="1461">22</text><text class="c n" x="281" y="1461">23</text><text class="c n" x="302" y="1461">24</text>
</g>

<!-- D: B137 -->
<text x="410" y="1401">D:</text><ellipse class="p" cx="457" cy="1395" rx="24" ry="14"/><text class="c" x="457" y="1400">B137</text><text x="487" y="1392">HR</text>
<g class="t">
<path d="M348,1422 H565 V1503 H500 V1482 H457 V1503 H435 V1482 H392 V1503 H348 Z M348,1440 H565 M348,1461 H565 M348,1482 H392 M457,1482 H500"/>
<path d="M379,1422 V1440 M410,1422 V1440 M441,1422 V1440 M472,1422 V1440 M503,1422 V1440 M534,1422 V1440"/>
<path d="M370,1440 V1503 M392,1440 V1482 M413,1440 V1482 M435,1440 V1482 M457,1440 V1503 M478,1440 V1503 M500,1440 V1482 M522,1440 V1503 M543,1440 V1503"/>
</g>
<text class="c n" x="363" y="1437">1</text><text class="c n" x="394" y="1437">2</text><text class="c n" x="425" y="1437">3</text><text class="c n" x="456" y="1437">4</text><text class="c n" x="487" y="1437">5</text><text class="c n" x="518" y="1437">6</text><text class="c n" x="549" y="1437">7</text>
<text class="c n" x="359" y="1457">8</text><text class="c n" x="381" y="1457">9</text><text class="c n" x="402" y="1457">10</text><text class="c n" x="424" y="1457">11</text><text class="c n" x="446" y="1457">12</text><text class="c n" x="467" y="1457">13</text><text class="c n" x="489" y="1457">14</text><text class="c n" x="511" y="1457">15</text><text class="c n" x="532" y="1457">16</text><text class="c n" x="554" y="1457">17</text>
<text class="c n" x="359" y="1478">18</text><text class="c n" x="381" y="1478">19</text><text class="c n" x="402" y="1478">20</text><text class="c n" x="424" y="1478">21</text><text class="c n" x="446" y="1478">22</text><text class="c n" x="467" y="1478">23</text><text class="c n" x="532" y="1478">24</text><text class="c n" x="554" y="1478">25</text>
<text class="c n" x="359" y="1499">26</text><text class="c n" x="381" y="1499">27</text><text class="c n" x="446" y="1499">28</text><text class="c n" x="467" y="1499">29</text><text class="c n" x="532" y="1499">30</text><text class="c n" x="554" y="1499">31</text>

<!-- A: B134 -->
<text x="662" y="1401">A:</text><ellipse class="p" cx="710" cy="1395" rx="24" ry="14"/><text class="c" x="710" y="1400">B134</text><text x="740" y="1392">HR</text>
<g class="t">
<path d="M600,1422 H817 V1503 H774 V1482 H709 V1503 H600 Z M600,1440 H817 M600,1461 H817 M600,1482 H709"/>
<path d="M631,1422 V1440 M662,1422 V1440 M693,1422 V1440 M724,1422 V1440 M755,1422 V1440 M786,1422 V1440"/>
<path d="M622,1440 V1503 M644,1440 V1503 M665,1440 V1503 M687,1440 V1503 M709,1440 V1482 M730,1440 V1482 M752,1440 V1482 M774,1440 V1482 M795,1440 V1503"/>
</g>
<text class="c n" x="615" y="1437">1</text><text class="c n" x="646" y="1437">2</text><text class="c n" x="677" y="1437">3</text><text class="c n" x="708" y="1437">4</text><text class="c n" x="739" y="1437">5</text><text class="c n" x="770" y="1437">6</text><text class="c n" x="801" y="1437">7</text>
<text class="c n" x="611" y="1457">8</text><text class="c n" x="633" y="1457">9</text><text class="c n" x="654" y="1457">10</text><text class="c n" x="676" y="1457">11</text><text class="c n" x="698" y="1457">12</text><text class="c n" x="719" y="1457">13</text><text class="c n" x="741" y="1457">14</text><text class="c n" x="763" y="1457">15</text><text class="c n" x="784" y="1457">16</text><text class="c n" x="806" y="1457">17</text>
<text class="c n" x="611" y="1478">18</text><text class="c n" x="633" y="1478">19</text><text class="c n" x="654" y="1478">20</text><text class="c n" x="676" y="1478">21</text><text class="c n" x="698" y="1478">22</text><text class="c n" x="719" y="1478">23</text><text class="c n" x="741" y="1478">24</text><text class="c n" x="763" y="1478">25</text><text class="c n" x="784" y="1478">26</text><text class="c n" x="806" y="1478">27</text>
<text class="c n" x="611" y="1499">28</text><text class="c n" x="633" y="1499">29</text><text class="c n" x="654" y="1499">30</text><text class="c n" x="676" y="1499">31</text><text class="c n" x="698" y="1499">32</text><text class="c n" x="784" y="1499">33</text><text class="c n" x="806" y="1499">34</text>

<!-- B: B135 -->
<text x="920" y="1401">B:</text><ellipse class="p" cx="968" cy="1395" rx="24" ry="14"/><text class="c" x="968" y="1400">B135</text><text x="998" y="1392">HR</text>
<g class="t">
<path d="M847,1440 V1422 H909 V1440 M940,1440 V1422 H1093 V1503 H1052 V1482 H1011 V1503 H970 V1482 H929 V1503 H847 V1440 H1093 M847,1461 H1093 M847,1482 H929 M970,1482 H1011 M1052,1482 H1093"/>
<path d="M878,1422 V1440 M971,1422 V1440 M1002,1422 V1440 M1033,1422 V1440 M1064,1422 V1440"/>
<path d="M867,1440 V1503 M888,1440 V1503 M908,1440 V1503 M929,1440 V1482 M949,1440 V1482 M970,1440 V1482 M990,1440 V1503 M1011,1440 V1482 M1031,1440 V1482 M1052,1440 V1482 M1072,1440 V1503"/>
</g>
<text class="c n" x="862" y="1437">1</text><text class="c n" x="893" y="1437">2</text><text class="c n" x="955" y="1437">3</text><text class="c n" x="986" y="1437">4</text><text class="c n" x="1017" y="1437">5</text><text class="c n" x="1048" y="1437">6</text><text class="c n" x="1078" y="1437">7</text>
<text class="c n" x="857" y="1457">8</text><text class="c n" x="878" y="1457">9</text><text class="c n" x="898" y="1457">10</text><text class="c n" x="919" y="1457">11</text><text class="c n" x="939" y="1457">12</text><text class="c n" x="960" y="1457">13</text><text class="c n" x="980" y="1457">14</text><text class="c n" x="1001" y="1457">15</text><text class="c n" x="1021" y="1457">16</text><text class="c n" x="1042" y="1457">17</text><text class="c n" x="1062" y="1457">18</text><text class="c n" x="1083" y="1457">19</text>
<text class="c n" x="857" y="1478">20</text><text class="c n" x="878" y="1478">21</text><text class="c n" x="898" y="1478">22</text><text class="c n" x="919" y="1478">23</text><text class="c n" x="980" y="1478">24</text><text class="c n" x="1001" y="1478">25</text><text class="c n" x="1062" y="1478">26</text><text class="c n" x="1083" y="1478">27</text>
<text class="c n" x="857" y="1499">28</text><text class="c n" x="878" y="1499">29</text><text class="c n" x="898" y="1499">30</text><text class="c n" x="919" y="1499">31</text><text class="c n" x="980" y="1499">32</text><text class="c n" x="1001" y="1499">33</text><text class="c n" x="1062" y="1499">34</text><text class="c n" x="1083" y="1499">35</text>

<!-- C: B136 -->
<text x="1190" y="1401">C:</text><ellipse class="p" cx="1238" cy="1395" rx="24" ry="14"/><text class="c" x="1238" y="1400">B136</text><text x="1268" y="1392">HR</text>
<g class="t">
<path d="M1147,1442 V1421 H1271 V1442 M1291,1442 V1421 H1352 V1506 H1230 V1485 H1189 V1506 H1127 V1463 H1147 V1442 H1352 M1127,1463 H1352 M1127,1485 H1189 M1230,1485 H1352"/>
<path d="M1178,1421 V1442 M1209,1421 V1442 M1240,1421 V1442 M1322,1421 V1442"/>
<path d="M1148,1463 V1506 M1168,1442 V1506 M1189,1442 V1485 M1209,1442 V1485 M1230,1442 V1485 M1251,1442 V1506 M1271,1442 V1506 M1292,1442 V1506 M1313,1442 V1506 M1333,1442 V1506"/>
</g>
<text class="c n" x="1162" y="1437">1</text><text class="c n" x="1193" y="1437">2</text><text class="c n" x="1224" y="1437">3</text><text class="c n" x="1255" y="1437">4</text><text class="c n" x="1306" y="1437">5</text><text class="c n" x="1337" y="1437">6</text>
<text class="c n" x="1158" y="1458">7</text><text class="c n" x="1178" y="1458">8</text><text class="c n" x="1199" y="1458">9</text><text class="c n" x="1220" y="1458">10</text><text class="c n" x="1240" y="1458">11</text><text class="c n" x="1261" y="1458">12</text><text class="c n" x="1282" y="1458">13</text><text class="c n" x="1302" y="1458">14</text><text class="c n" x="1323" y="1458">15</text><text class="c n" x="1343" y="1458">16</text>
<text class="c n" x="1137" y="1480">17</text><text class="c n" x="1158" y="1480">18</text><text class="c n" x="1178" y="1480">19</text><text class="c n" x="1199" y="1480">20</text><text class="c n" x="1220" y="1480">21</text><text class="c n" x="1240" y="1480">22</text><text class="c n" x="1261" y="1480">23</text><text class="c n" x="1282" y="1480">24</text><text class="c n" x="1302" y="1480">25</text><text class="c n" x="1323" y="1480">26</text><text class="c n" x="1343" y="1480">27</text>
<text class="c n" x="1137" y="1501">28</text><text class="c n" x="1158" y="1501">29</text><text class="c n" x="1178" y="1501">30</text><text class="c n" x="1240" y="1501">31</text><text class="c n" x="1261" y="1501">32</text><text class="c n" x="1282" y="1501">33</text><text class="c n" x="1302" y="1501">34</text><text class="c n" x="1323" y="1501">35</text>

<text x="1272" y="1548" class="n" style="font-size:17px">WI-05576</text>
</svg>
</body></html>
